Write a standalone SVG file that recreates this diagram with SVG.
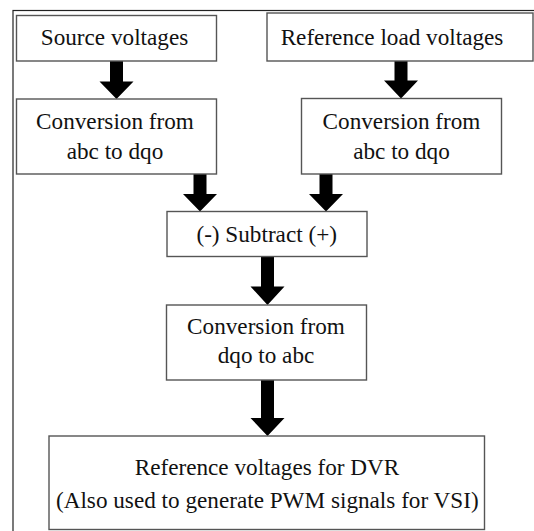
<svg xmlns="http://www.w3.org/2000/svg" width="534" height="531" viewBox="0 0 534 531">
<style>
.box{fill:#fff;stroke:#555;stroke-width:1.4}
.t{font-family:'Liberation Serif','Times New Roman',Times,serif;font-size:23.2px;fill:#111;text-anchor:middle}
.arr{fill:#000}
</style>
<rect x="0" y="0" width="534" height="531" fill="#fff"/>
<rect x="13" y="10.5" width="540" height="540" fill="none" stroke="#222" stroke-width="1.2"/>
<g id="connectors">
<polygon class="arr" points="110,61 123,61 123,81.5 133.5,81.5 116.5,99 99.5,81.5 110,81.5"/>
<polygon class="arr" points="394.5,61 407.5,61 407.5,80.5 418,80.5 401,98.5 384,80.5 394.5,80.5"/>
<polygon class="arr" points="193.5,174 206.5,174 206.5,194 217,194 200,211.5 183,194 193.5,194"/>
<polygon class="arr" points="319.5,174 332.5,174 332.5,194 343,194 326,211.5 309,194 319.5,194"/>
<polygon class="arr" points="261,256.5 274,256.5 274,286.5 284.5,286.5 267.5,305 250.5,286.5 261,286.5"/>
<polygon class="arr" points="261,380 274,380 274,418 284.5,418 267.5,436 250.5,418 261,418"/>
</g>
<g id="source">
<rect class="box" x="16.5" y="15.5" width="200" height="45.5"/>
<text class="t" x="114.5" y="45">Source voltages</text>
</g>
<g id="refload">
<rect class="box" x="267" y="13" width="266" height="48"/>
<text class="t" x="392" y="45">Reference load voltages</text>
</g>
<g id="conv1">
<rect class="box" x="16.5" y="99" width="200" height="75"/>
<text class="t" x="115" y="129">Conversion from</text>
<text class="t" x="115" y="158.5">abc to dqo</text>
</g>
<g id="conv2">
<rect class="box" x="301.5" y="98.5" width="200" height="75.5"/>
<text class="t" x="401.5" y="129">Conversion from</text>
<text class="t" x="401.5" y="158.5">abc to dqo</text>
</g>
<g id="subtract">
<rect class="box" x="167" y="211.5" width="200" height="45"/>
<text class="t" x="266.7" y="241.5">(-) Subtract (+)</text>
</g>
<g id="conv3">
<rect class="box" x="166.5" y="305" width="200" height="75"/>
<text class="t" x="266" y="333.5">Conversion from</text>
<text class="t" x="266" y="363">dqo to abc</text>
</g>
<g id="final">
<rect class="box" x="49" y="436" width="435.5" height="93.5"/>
<text class="t" x="267" y="474.5">Reference voltages for DVR</text>
<text class="t" x="267.3" y="507.5">(Also used to generate PWM signals for VSI)</text>
</g>
</svg>
